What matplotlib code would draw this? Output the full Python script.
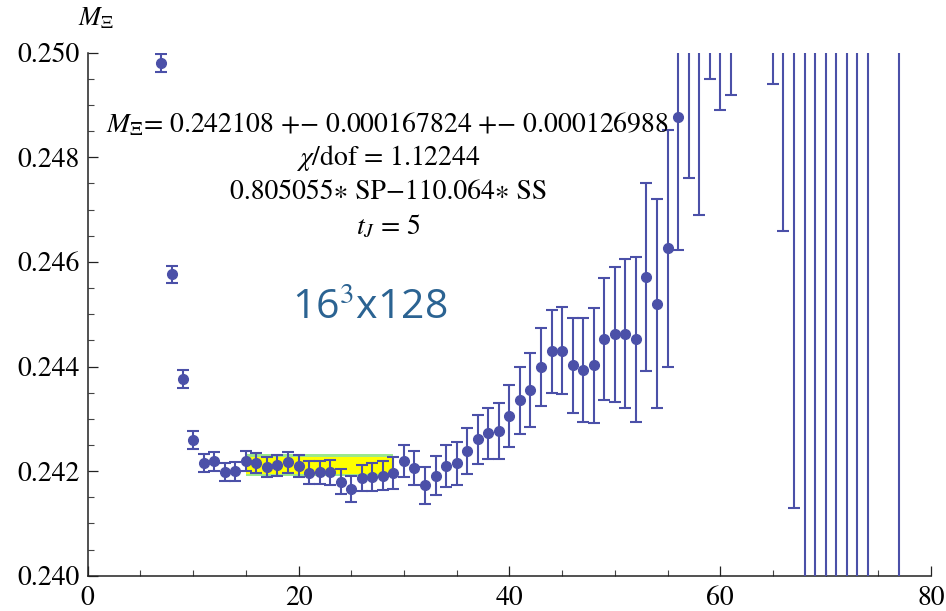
import matplotlib
matplotlib.use("Agg")
import matplotlib.pyplot as plt
import numpy as np

# ---- data ----
t_vals = [7, 8, 9, 10, 11, 12, 13, 14, 15, 16, 17, 18, 19, 20, 21, 22, 23, 24, 25, 26,
          27, 28, 29, 30, 31, 32, 33, 34, 35, 36, 37, 38, 39, 40, 41, 42, 43, 44, 45, 46,
          47, 48, 49, 50, 51, 52, 53, 54, 55, 56, 57, 58, 59, 60, 61,
          65, 66, 67, 68, 69, 70, 71, 72, 73, 74, 77]
m_vals = [0.24980, 0.24576, 0.24376, 0.24260, 0.24216, 0.24219, 0.24198, 0.24200, 0.24220, 0.24215,
          0.24207, 0.24211, 0.24217, 0.24209, 0.24197, 0.24198, 0.24198, 0.24180, 0.24165, 0.24187,
          0.24188, 0.24191, 0.24196, 0.24219, 0.24206, 0.24173, 0.24191, 0.24210, 0.24215, 0.24239,
          0.24261, 0.24272, 0.24277, 0.24305, 0.24335, 0.24355, 0.24399, 0.24429, 0.24430, 0.24402,
          0.24393, 0.24402, 0.24452, 0.24462, 0.24463, 0.24452, 0.24571, 0.24520, 0.24626, 0.24878,
          0.2505, 0.2505, 0.2535, 0.2535, 0.2545,
          0.2580, 0.2570, 0.2550, 0.2550, 0.2550, 0.2550, 0.2550, 0.2550, 0.2550, 0.2550, 0.2550]
m_errs = [0.00017, 0.00017, 0.00017, 0.00017, 0.00017, 0.00018, 0.00017, 0.00018, 0.00019, 0.00019,
          0.00019, 0.00020, 0.00020, 0.00021, 0.00022, 0.00022, 0.00024, 0.00024, 0.00025, 0.00025,
          0.00027, 0.00028, 0.00030, 0.00031, 0.00033, 0.00035, 0.00037, 0.00040, 0.00041, 0.00044,
          0.00047, 0.00049, 0.00054, 0.00059, 0.00064, 0.00070, 0.00075, 0.00080, 0.00083, 0.00091,
          0.00100, 0.00110, 0.00117, 0.00129, 0.00143, 0.00158, 0.00179, 0.00200, 0.00227, 0.00256,
          0.0029, 0.0036, 0.0040, 0.0046, 0.0053,
          0.0086, 0.0104, 0.0137, 0.0200, 0.0200, 0.0200, 0.0200, 0.0200, 0.0200, 0.0200, 0.0200]

fit_range = [15, 29]
fit_value = 0.242108
fit_stat = 0.000167824
fit_sys = 0.000126988

x_ticks = [0, 20, 40, 60, 80]
y_ticks = [0.240, 0.242, 0.244, 0.246, 0.248, 0.250]

# ---- style ----
plt.rcParams['font.family'] = ['STIXGeneral', 'DejaVu Serif']
plt.rcParams['mathtext.fontset'] = 'stix'

fig = plt.figure(figsize=(9.46, 6.11), dpi=100)
ax = fig.add_axes([0.0927, 0.0578, 0.8915, 0.8559])

pt_color = '#4b50a8'

tot = np.hypot(fit_stat, fit_sys)
ax.fill_between(fit_range, fit_value - tot, fit_value + tot, color='#9be88a', lw=0, zorder=1)
ax.fill_between(fit_range, fit_value - fit_stat, fit_value + fit_stat, color='#ffff00', lw=0, zorder=1.5)

ax.errorbar(t_vals, m_vals, yerr=m_errs, fmt='o', color=pt_color, ms=7,
            elinewidth=1.5, capsize=4.3, capthick=1.5, zorder=3)

ax.set_xlim(0, 80)
ax.set_ylim(0.240, 0.250)
ax.set_xticks(x_ticks)
ax.set_yticks(y_ticks)
ax.set_yticklabels([f"{v:.3f}" for v in y_ticks])
ax.set_xticks(np.arange(0, 81, 5), minor=True)
ax.set_yticks(np.arange(0.240, 0.25001, 0.0005), minor=True)

for s in ['top', 'right']:
    ax.spines[s].set_visible(False)
for s in ['left', 'bottom']:
    ax.spines[s].set_linewidth(1.1)
    ax.spines[s].set_color('#222222')

ax.tick_params(which='major', direction='in', length=7, width=0.9, labelsize=20, colors='#222222', labelcolor='black')
ax.tick_params(axis='x', which='major', pad=7)
ax.tick_params(axis='y', which='major', pad=6)
ax.tick_params(which='minor', direction='in', length=4, width=0.8, colors='#444444')

ax.text(0.01, 1.04, r"$M_{\Xi}$", transform=ax.transAxes, fontsize=19, ha='center', va='bottom')

txt_kw = dict(transform=ax.transAxes, ha='center', va='center', fontsize=20)
ax.text(0.355, 0.862, r"$M_{\Xi}$= 0.242108 +− 0.000167824 +− 0.000126988", **txt_kw)
ax.text(0.357, 0.798, r"$\chi$/dof = 1.12244", **txt_kw)
ax.text(0.357, 0.733, "0.805055∗ SP−110.064∗ SS", **txt_kw)
ax.text(0.357, 0.668, r"$t_J$ = 5", **txt_kw)

ax.text(0.334, 0.512, "16$^3$x128", transform=ax.transAxes, ha='center', va='center',
        fontsize=29.5, color='#2b6392', family='Open Sans')

fig.savefig("out.png", dpi=100)
